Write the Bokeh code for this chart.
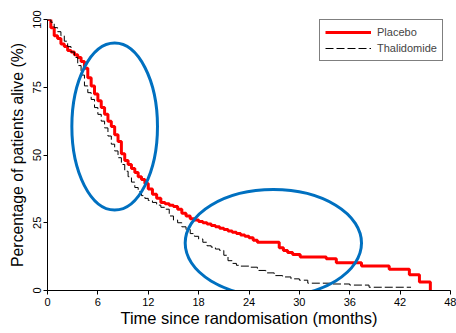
from bokeh.plotting import figure
from bokeh.models import Legend, LegendItem, FixedTicker
from bokeh.embed import file_html
from bokeh.resources import INLINE

# Kaplan-Meier curves (months, % alive)
placebo_t = [0, 0.4, 0.8, 1.2, 1.6, 2.0, 2.4, 2.8, 3.2, 3.6, 4.0, 4.4, 4.8, 5.2, 5.6,
             6.0, 6.4, 6.8, 7.2, 7.6, 8.0, 8.4, 8.8, 9.2, 9.6, 10.0, 10.4, 10.8, 11.2,
             11.6, 12.0, 12.5, 13.0, 13.5, 14.0, 14.5, 15.0, 15.5, 16.0, 16.5, 17.0,
             17.5, 18.0, 18.5, 19.0, 19.5, 20.0, 20.5, 21.0, 21.5, 22.0, 22.5, 23.0,
             23.5, 24.0, 24.5, 25.0, 27.6, 28.1, 28.6, 29.2, 30.1, 33.2, 34.4, 37.4,
             40.7, 43.1, 44.3, 45.6]
placebo_s = [100, 97, 94, 93, 91, 90, 88.6, 88, 87, 86, 84.5, 82, 78.5, 75.5, 72.5,
             70, 67.5, 65, 62.5, 60.5, 57.5, 55, 50.5, 48, 46.5, 45, 43.5, 42, 41,
             39.5, 37.5, 35.5, 34, 32.5, 32, 31.5, 31, 30, 28.5, 27.5, 26.5,
             26, 25.5, 25, 24.5, 24, 23.5, 23, 22.5, 22, 21.5, 21, 20.5,
             20, 19.5, 18.5, 17.8, 15.8, 14.8, 14.0, 13.3, 12.4, 11.7, 10.2, 9.0,
             7.8, 5.8, 3.1, 0]

thal_t = [0, 0.4, 0.8, 1.2, 1.6, 2.0, 2.4, 2.8, 3.2, 3.6, 4.0, 4.4, 4.8, 5.2, 5.6,
          6.0, 6.4, 6.8, 7.2, 7.6, 8.0, 8.4, 8.8, 9.2, 9.6, 10.0, 10.4, 10.8, 11.2,
          11.6, 12.0, 12.5, 13.0, 13.5, 14.0, 14.5, 15.0, 15.5, 16.0, 16.5, 17.0,
          17.5, 18.0, 18.5, 19.0, 19.5, 20.0, 20.5, 21.0, 21.5, 22.0, 22.5, 23.0,
          24.0, 25.0, 26.0, 27.0, 28.0, 29.0, 30.0, 31.0, 34.0, 36.0, 38.3, 43.3]
thal_s = [100, 99, 97, 95.5, 94, 92, 90, 88, 86, 83, 79.5, 75.5, 73, 70.5, 67.5,
          65, 62.5, 60, 57, 54, 51.5, 49, 46.5, 44, 42, 40, 38, 36.5, 35,
          34, 33.2, 32.5, 31.5, 30.7, 30, 27.5, 26, 25, 23.5, 22.5, 21,
          20, 19, 17.8, 16.5, 16, 15.3, 14.8, 13, 11, 10, 9.3, 9,
          8.6, 7.4, 6.5, 5.5, 5.0, 4.3, 3.8, 2.7, 2.4, 2.0, 1.2, 1.2]

x_ticks = [0, 6, 12, 18, 24, 30, 36, 42, 48]
y_ticks = [0, 25, 50, 75, 100]

# highlight ellipses (centre x, centre y, width, height in data units)
ell_x = [8.0, 26.9]
ell_y = [60.5, 17.5]
ell_w = [10.2, 21.0]
ell_h = [61.6, 39.5]

FONT = "Liberation Sans"

p = figure(width=456, height=333, x_range=(0, 48), y_range=(0, 100),
           output_backend="svg", toolbar_location=None,
           min_border_left=47, min_border_right=6, min_border_top=19, min_border_bottom=43)
p.outline_line_color = None
p.xgrid.visible = False
p.ygrid.visible = False
p.background_fill_color = "white"
p.border_fill_color = "white"

r1 = p.step(placebo_t, placebo_s, mode="after", line_color="#FF0000", line_width=3)
r2 = p.step(thal_t, thal_s, mode="after", line_color="black", line_width=1,
            line_dash="8 3")

p.ellipse(x=ell_x, y=ell_y, width=ell_w, height=ell_h, fill_color=None,
          line_color="#0070C0", line_width=3)

for ax in (p.xaxis[0], p.yaxis[0]):
    ax.axis_line_color = "black"
    ax.axis_line_width = 1
    ax.major_tick_line_color = "black"
    ax.major_tick_out = 4
    ax.major_tick_in = 0
    ax.minor_tick_line_color = None
    ax.major_label_text_font = FONT
    ax.major_label_text_font_size = "11px"
    ax.major_label_text_color = "black"
    ax.axis_label_text_font = FONT
    ax.axis_label_text_font_style = "normal"
    ax.axis_label_text_color = "black"

p.xaxis[0].axis_label_text_font_size = "16.5px"
p.yaxis[0].axis_label_text_font_size = "15.8px"
p.xaxis[0].ticker = FixedTicker(ticks=x_ticks)
p.yaxis[0].ticker = FixedTicker(ticks=y_ticks)
p.xaxis[0].axis_label = "Time since randomisation (months)"
p.yaxis[0].axis_label = "Percentage of patients alive (%)"
p.yaxis[0].major_label_orientation = "vertical"
p.xaxis[0].major_label_standoff = 3
p.xaxis[0].axis_label_standoff = 0
p.yaxis[0].major_label_standoff = 3
p.yaxis[0].axis_label_standoff = 4

legend = Legend(items=[LegendItem(label="Placebo", renderers=[r1]),
                       LegendItem(label="Thalidomide", renderers=[r2])],
                location=(272, 229), margin=0, padding=5, spacing=2,
                glyph_width=46, glyph_height=14, label_height=14,
                label_standoff=6, label_text_font=FONT, label_text_font_size="11px",
                border_line_color="black", border_line_width=1,
                background_fill_color="white", background_fill_alpha=1)
p.add_layout(legend)

open("out.html", "w").write(file_html(p, INLINE))
